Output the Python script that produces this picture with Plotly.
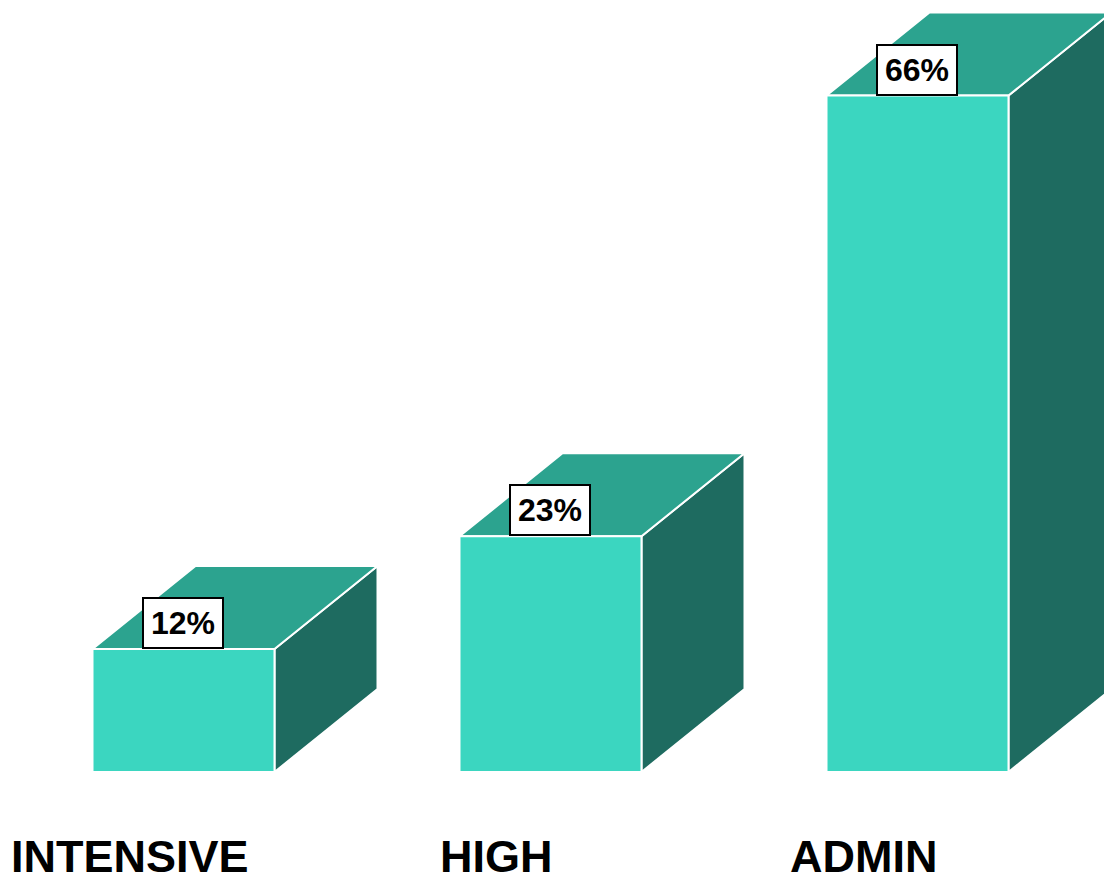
import plotly.graph_objects as go

categories = ["INTENSIVE", "HIGH", "ADMIN"]
values = [12, 23, 66]
labels = ["12%", "23%", "66%"]

FRONT = "#3BD6C0"
TOP = "#2CA38F"
SIDE = "#1E6B60"

W, H = 1104, 880
unit_x = 367.0          # px per category step
unit_y = 10.25          # px per percent
x0_px = 183.5           # pixel of first category centre
y0_px = 772.0           # pixel of value 0

xr = [-x0_px / unit_x, (W - x0_px) / unit_x]
yr = [-(H - y0_px) / unit_y, y0_px / unit_y]

hw = 91 / unit_x
dx = 103 / unit_x
dy = 83 / unit_y

fig = go.Figure()
for i, v in enumerate(values):
    xl, xrr = i - hw, i + hw
    polys = [
        (SIDE, [xrr, xrr + dx, xrr + dx, xrr, xrr], [0, dy, v + dy, v, 0]),
        (TOP, [xl, xl + dx, xrr + dx, xrr, xl], [v, v + dy, v + dy, v, v]),
        (FRONT, [xl, xrr, xrr, xl, xl], [0, 0, v, v, 0]),
    ]
    for col, xs, ys in polys:
        fig.add_trace(go.Scatter(x=xs, y=ys, fill="toself", fillcolor=col,
                                 mode="lines", line=dict(color="white", width=2),
                                 hoverinfo="skip", showlegend=False))
    fig.add_annotation(x=i, y=v, xref="x", yref="y", text=f"<b>{labels[i]}</b>",
                       showarrow=False, xanchor="center", yanchor="bottom",
                       bgcolor="white", bordercolor="black", borderwidth=2, borderpad=1,
                       width=76, height=46, xshift=-1,
                       font=dict(family="Arial, Liberation Sans", size=32, color="black"))
    fig.add_annotation(x=i, y=0, xref="x", yref="y", text=f"<b>{categories[i]}</b>",
                       showarrow=False, xanchor="center", yanchor="middle",
                       xshift=-54, yshift=-84,
                       font=dict(family="Arial, Liberation Sans", size=45, color="black"))

fig.update_layout(width=W, height=H, margin=dict(l=0, r=0, t=0, b=0),
                  paper_bgcolor="white", plot_bgcolor="white",
                  xaxis=dict(range=xr, visible=False, fixedrange=True),
                  yaxis=dict(range=yr, visible=False, fixedrange=True))
fig.write_html("out.html", config={"displayModeBar": False},
               post_script="document.body.style.margin='0px';document.body.style.overflow='hidden';")
